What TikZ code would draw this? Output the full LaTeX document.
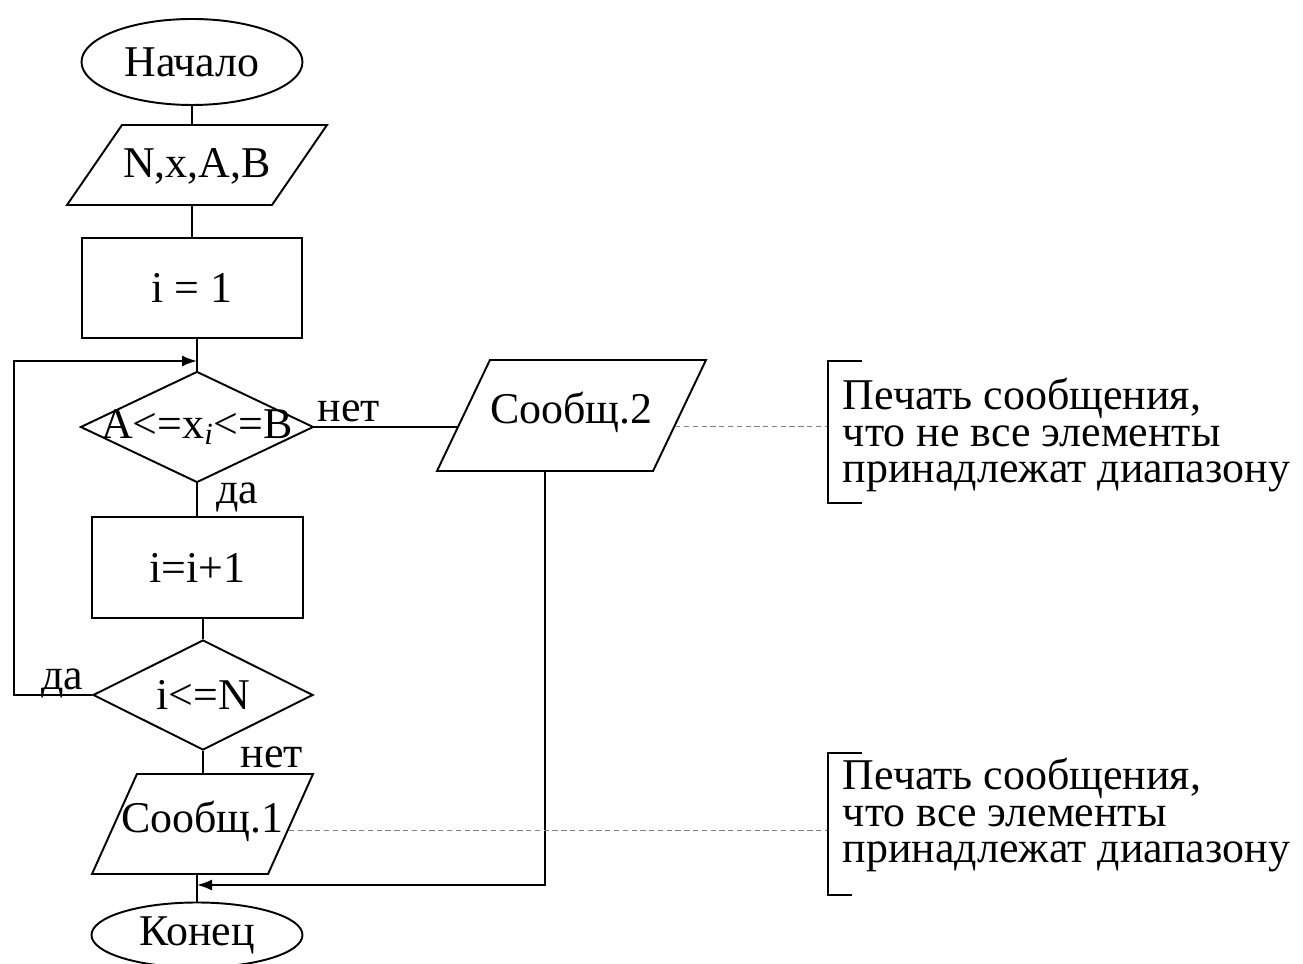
\documentclass[tikz,border=0pt]{standalone}
\usepackage{fontspec}
\setmainfont{Liberation Serif}
\usetikzlibrary{shapes.geometric,arrows.meta,calc}

\tikzset{
  terminal/.style={ellipse,draw,inner sep=0pt},
  io/.style={trapezium,draw,trapezium stretches body,inner sep=0pt},
  process/.style={rectangle,draw,inner sep=0pt},
  decision/.style={diamond,draw,inner sep=0pt},
  lbl/.style={inner sep=0pt},
  note/.style={align=left,inner sep=0pt,anchor=base west},
  arrow/.style={-{Latex[length=3mm,width=2.2mm]}},
  guide/.style={densely dashed,line width=0.5pt,gray}
}

\begin{document}
\begin{tikzpicture}[line width=1.1pt,font=\fontsize{25}{21}\selectfont]
\useasboundingbox (0,0) rectangle (26.06,19.28);
% main column
\node[terminal,minimum width=4.42cm,minimum height=1.72cm] (start) at (3.84,18.04) {Начало};
\node[io,trapezium left angle=55.5,trapezium right angle=124.5,minimum width=5.2cm,text height=1.06cm,text depth=0.54cm] (input) at (3.94,15.98) {\makebox[0pt]{N,x,A,B}};
\node[process,minimum width=4.4cm,minimum height=2cm] (init) at (3.84,13.52) {i = 1};
\node[decision,minimum width=4.66cm,minimum height=2.22cm] (cmp) at (3.94,10.74) {\makebox[0pt]{A<=x\textsubscript{\textit{i}}<=B}};
\coordinate (join1) at (cmp.north |- 0,12.06);
\node[process,minimum width=4.22cm,minimum height=2.02cm] (inc) at (3.95,7.93) {i=i+1};
\node[decision,minimum width=4.4cm,minimum height=2.2cm] (chk) at (4.06,5.38) {\makebox[0pt]{i<=N}};
\node[io,trapezium left angle=65.8,trapezium right angle=114.2,minimum width=4.42cm,text height=1.18cm,text depth=0.82cm] (msg1) at (4.05,2.8) {\makebox[0pt]{Сообщ.1}};
\node[terminal,minimum width=4.22cm,minimum height=1.3cm] (stop) at (3.94,0.58) {Конец};
\coordinate (join2) at (stop.north |- 0,1.58);
\coordinate (loopl) at (0.28,12.06);

% branch
\node[io,trapezium left angle=64.5,trapezium right angle=115.5,minimum width=5.38cm,text height=1.28cm,text depth=0.94cm] (msg2) at (11.43,10.97) {\makebox[0pt]{Сообщ.2}};

% labels
\node[lbl] (no1) at (6.98,11.06) {нет};
\node[lbl] (yes1) at (4.74,9.34) {да};
\node[lbl] (yes2) at (1.24,5.62) {да};
\node[lbl] (no2) at (5.44,4.14) {нет};

% connectors
\draw (start.south) -- (start.south |- input.top side);
\draw (init.north) -- (init.north |- input.bottom side);
\draw (cmp.north |- init.south) -- (cmp.north);
\draw (cmp.south) -- (inc.north -| cmp.south);
\draw (inc.south -| chk.north) -- (chk.north);
\draw[arrow] (chk.west) -| (loopl) -- (join1);
\draw (chk.south) -- (msg1.top side -| chk.south);
\draw (stop.north |- msg1.bottom side) -- (stop.north);
\coordinate (msg2in) at ($(msg2.bottom left corner)!0.4!(msg2.top left corner)$);
\draw (cmp.east) -- (cmp.east -| msg2in);
\draw[arrow] (msg2.bottom side) |- (join2);

% comments
\coordinate (note1) at (16.56,10.74);
\coordinate (note2) at (16.56,2.68);
\coordinate (msg2out) at ($(msg2.bottom right corner)!0.4!(msg2.top right corner)$);
\coordinate (msg1out) at ($(msg1.bottom right corner)!0.44!(msg1.top right corner)$);
\draw[guide] (msg2out) -- (msg2out -| note1);
\draw[guide] (msg1out) -- (msg1out -| note2);
\draw[line width=0.9pt] (17.24,12.06) -- (16.56,12.06) -- (16.56,9.22) -- (17.24,9.22);
\draw[line width=0.9pt] (17.24,4.22) -- (16.56,4.22) -- (16.56,1.38) -- (17.04,1.38);
\node[note] (text1) at (16.84,9.62) {Печать сообщения,\\что не все элементы\\принадлежат диапазону};
\node[note] (text2) at (16.84,2.02) {Печать сообщения,\\что все элементы\\принадлежат диапазону};
\end{tikzpicture}
\end{document}
